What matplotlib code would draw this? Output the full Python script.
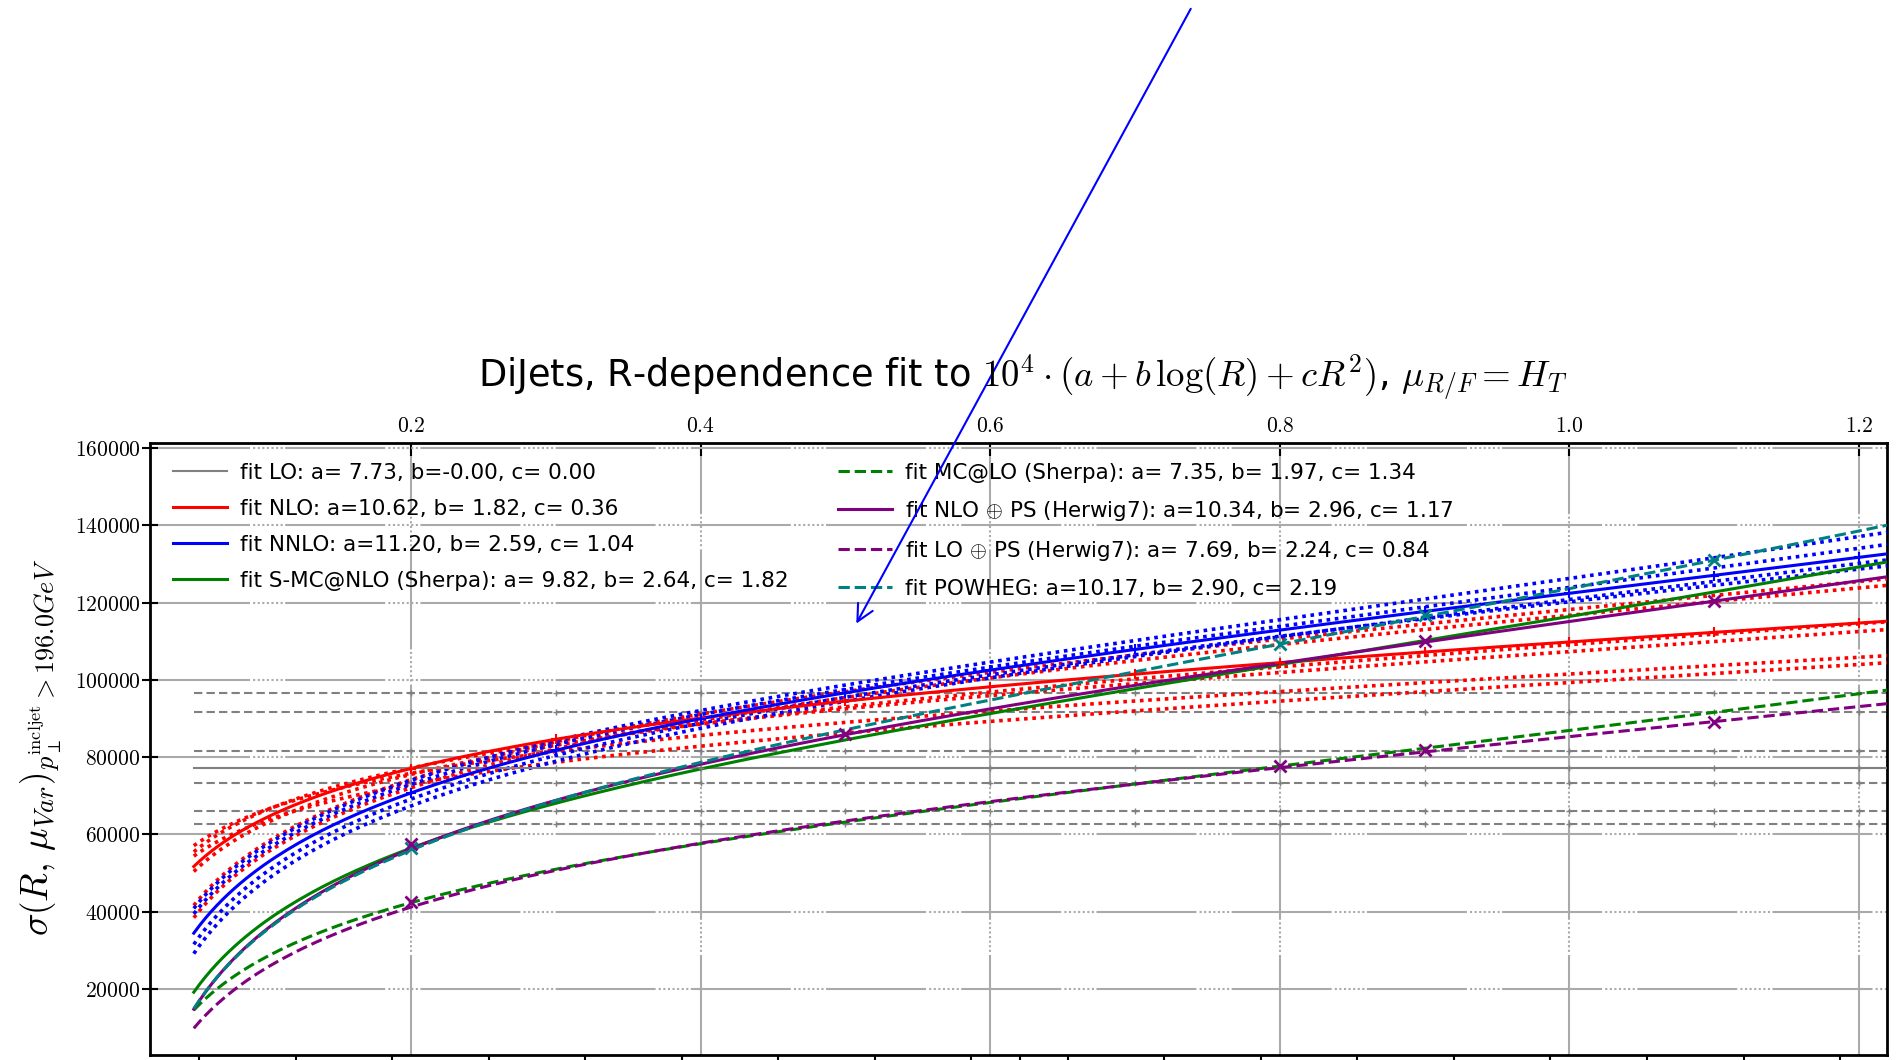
import numpy as np
import matplotlib
matplotlib.use('Agg')
import matplotlib.pyplot as plt

plt.rcParams['mathtext.fontset'] = 'cm'
plt.rcParams['font.family'] = 'DejaVu Sans'

# fit parameters (units of 1e4)
FIT_NAMES = ['LO', 'NLO', 'NNLO', 'S-MC@NLO (Sherpa)', 'MC@LO (Sherpa)',
             r'NLO $\oplus$ PS (Herwig7)', r'LO $\oplus$ PS (Herwig7)', 'POWHEG']
FIT_A = [7.73, 10.62, 11.20, 9.82, 7.35, 10.34, 7.69, 10.17]
FIT_B = [-0.0, 1.82, 2.59, 2.64, 1.97, 2.96, 2.24, 2.90]
FIT_C = [0.00, 0.36, 1.04, 1.82, 1.34, 1.17, 0.84, 2.19]
COLORS = ['gray', 'red', 'blue', 'green', 'green', 'purple', 'purple', 'teal']
STYLES = ['-', '-', '-', '-', '--', '-', '--', '--']

# scale variations
LO_VAR_LEVELS = [96700, 91800, 81700, 73300, 66000, 62700]
NLO_VAR_A = [11.14, 11.06, 9.72, 9.42, 10.43, 10.19]
NLO_VAR_B = [2.33, 2.41, 1.34, 1.33, 1.80, 1.55]
NLO_VAR_C = [0.68, 0.61, 0.43, 0.51, 0.48, 0.54]
NNLO_VAR_A = [11.12, 11.09, 11.07, 11.21]
NNLO_VAR_B = [2.35, 2.73, 2.38, 2.69]
NNLO_VAR_C = [1.50, 0.99, 1.32, 0.81]

# data points
R_POINTS = [0.2, 0.3, 0.4, 0.5, 0.6, 0.7, 0.8, 0.9, 1.0, 1.1, 1.2]
NLO_POINTS = [77000, 84600, 90100, 94500, 98200, 101500, 104400, 107200, 109800, 112300, 114700]
NNLO_POINTS = [70700, 81800, 89900, 96600, 102500, 107900, 112900, 117700, 122400, 127000, 131700]
LO_POINTS = [77300] * 11

X_COLORS = ['teal', 'purple', 'purple']
X_R = [[0.2, 0.8, 0.9, 1.1], [0.2, 0.5, 0.9, 1.1], [0.2, 0.8, 0.9, 1.1]]
X_VAL = [[56500, 109200, 116800, 131000], [57500, 86000, 110000, 120400],
         [42500, 77700, 81800, 89100]]

TOP_TICKS = [0.2, 0.4, 0.6, 0.8, 1.0, 1.2]
Y_TICKS = [20000, 40000, 60000, 80000, 100000, 120000, 140000, 160000]


def fit(a, b, c, r):
    return 1e4 * (a + b * np.log(r) + c * r ** 2)


fig = plt.figure(figsize=(18.97, 10.60), dpi=100)
ax = fig.add_axes([0.0791, 0.0047, 0.9156, 0.5774])

r = np.linspace(0.05, 1.25, 300)

# LO scale variations
for lev in LO_VAR_LEVELS:
    ax.plot(r, np.full_like(r, lev), color='gray', ls=(0, (4, 2)), lw=1.5, zorder=2)
    ax.plot(R_POINTS, [lev] * len(R_POINTS), ls='none', marker='+', ms=5, color='gray', zorder=2)

for a, b, c in zip(NLO_VAR_A, NLO_VAR_B, NLO_VAR_C):
    ax.plot(r, fit(a, b, c, r), color='red', ls=(0, (1, 1.3)), lw=2.6, zorder=3)
for a, b, c in zip(NNLO_VAR_A, NNLO_VAR_B, NNLO_VAR_C):
    ax.plot(r, fit(a, b, c, r), color='blue', ls=(0, (1, 1.3)), lw=2.6, zorder=3)

handles = []
for i in range(len(FIT_NAMES)):
    lab = 'fit %s: a=%5.2f, b=%5.2f, c=%5.2f' % (FIT_NAMES[i], FIT_A[i], FIT_B[i], FIT_C[i])
    lw = 1.5 if i == 0 else 2.2
    h, = ax.plot(r, fit(FIT_A[i], FIT_B[i], FIT_C[i], r), color=COLORS[i],
                 ls=STYLES[i], lw=lw, label=lab, zorder=4)
    handles.append(h)

ax.plot(R_POINTS, LO_POINTS, ls='none', marker='+', ms=5, color='gray', zorder=4)
ax.plot(R_POINTS, NLO_POINTS, ls='none', marker='+', ms=7, mew=1.5, color='red', zorder=5)
ax.plot(R_POINTS, NNLO_POINTS, ls='none', marker='+', ms=7, mew=1.5, color='blue', zorder=5)
for xr, xv, col in zip(X_R, X_VAL, X_COLORS):
    ax.plot(xr, xv, ls='none', marker='x', ms=9, mew=2, color=col, zorder=6)

ax.set_xlim(0.0198, 1.2193)
ax.set_ylim(2900, 161300)

grid_ls = (0, (48, 1.5) + (1, 1.2) * 7)
ax.set_axisbelow(True)
ax.grid(True, color='#aaaaaa', lw=1.5, ls=grid_ls)

ax.set_xticks(TOP_TICKS)
ax.set_xticklabels(['$%.1f$' % t for t in TOP_TICKS], fontsize=15.5)
ax.set_yticks(Y_TICKS)
ax.set_yticklabels(['$%d$' % t for t in Y_TICKS], fontsize=15.5)
ax.tick_params(axis='x', bottom=False, top=True, labelbottom=False, labeltop=True,
               direction='in', length=9, width=1.5, pad=5)
ax.tick_params(axis='y', direction='inout', length=12, width=1.5, right=False, pad=1)
for s in ax.spines.values():
    s.set_linewidth(2)

bottom_ticks = list(np.arange(18) / 15 + 0.0536) + [0.6206]
sec = ax.secondary_xaxis('bottom')
sec.set_xticks(bottom_ticks)
sec.set_xticklabels([])
sec.tick_params(direction='out', length=8, width=1.5)

ax.legend(handles=handles, ncol=2, loc='upper left', bbox_to_anchor=(0.0132, 0.968),
          frameon=False, fontsize=15.5, handlelength=2.5, handletextpad=0.6,
          columnspacing=2.3, labelspacing=0.75, borderpad=0, borderaxespad=0)

fig.text(0.539, 1 - 378 / 1060,
         r'DiJets, R-dependence fit to $10^4 \cdot (a + b\,\log(R) + cR^2)$, $\mu_{R/F} = H_T$',
         ha='center', va='center', fontsize=26.5)
fig.text(0.022, 1 - 747 / 1060,
         r'$\sigma\left(R,\,\mu_{Var}\right)_{p_{\perp}^{\mathrm{incljet}}>196.0GeV}$',
         rotation=90, ha='center', va='center', fontsize=27)

ax.annotate('', xy=(0.4507, 0.4094), xycoords='figure fraction',
            xytext=(0.6284, 0.994), textcoords='figure fraction',
            arrowprops=dict(arrowstyle='->', color='blue', lw=1.5, mutation_scale=30),
            annotation_clip=False, zorder=10)

fig.savefig('out.png', dpi=100)
